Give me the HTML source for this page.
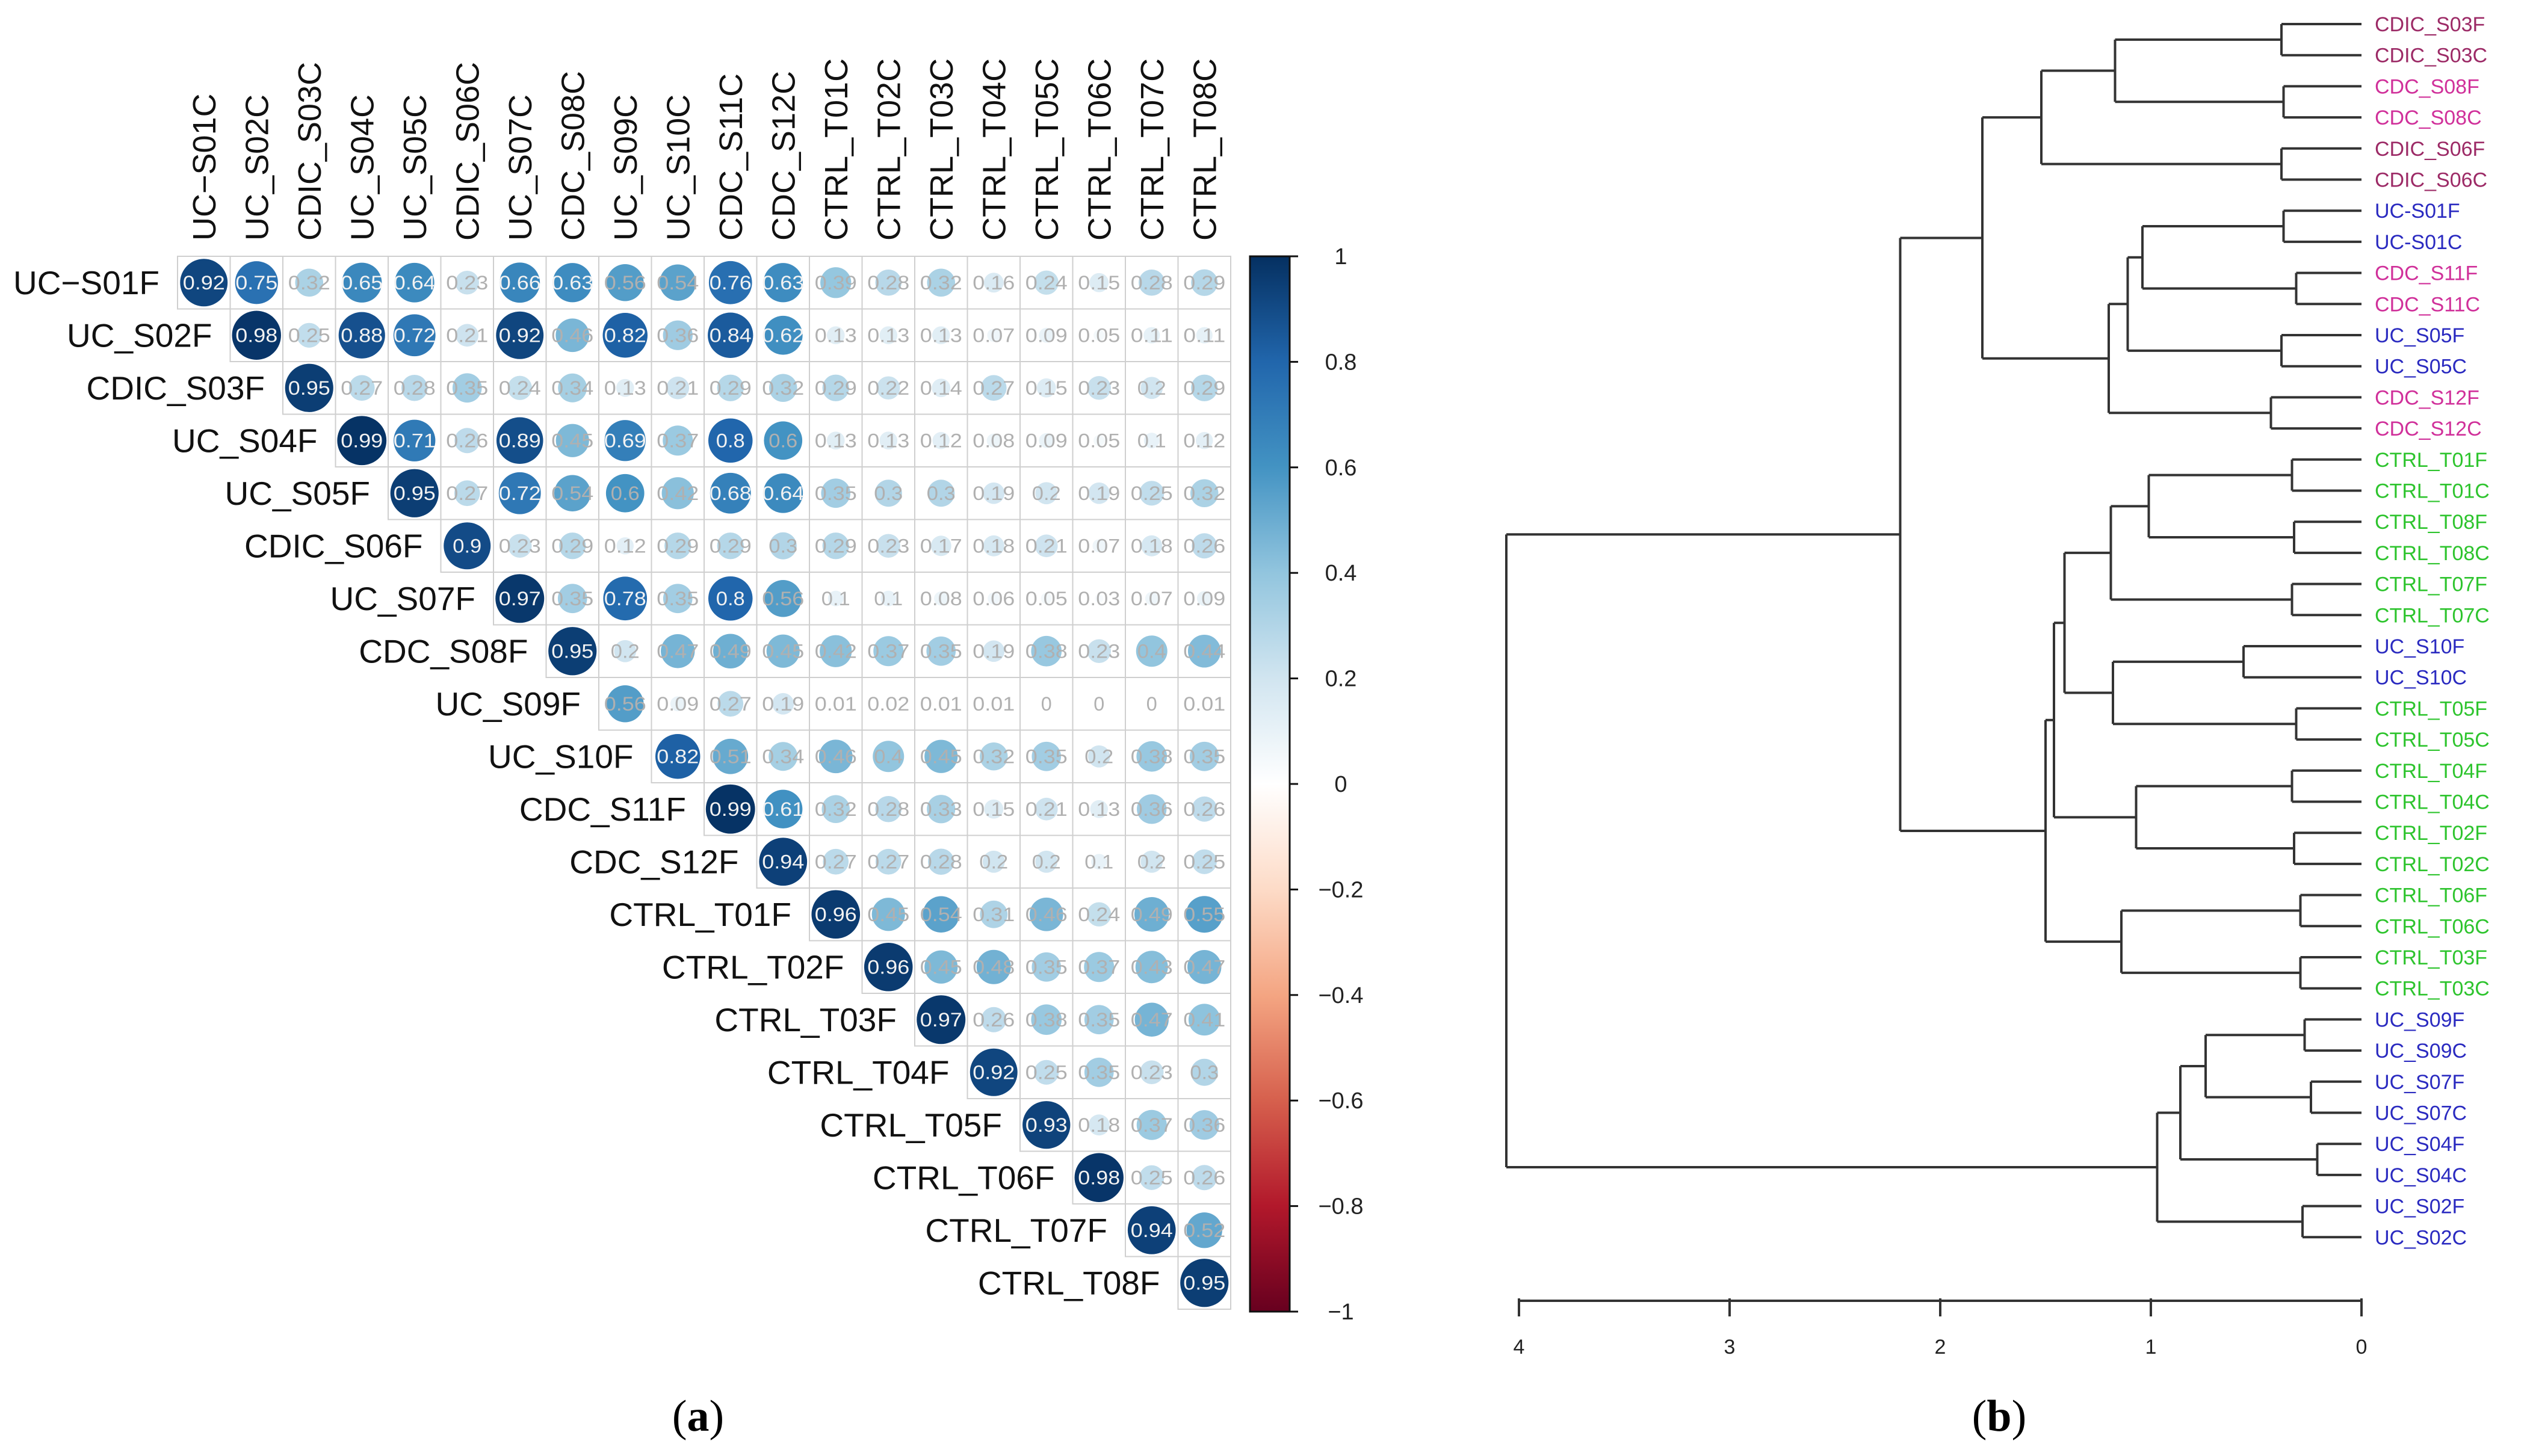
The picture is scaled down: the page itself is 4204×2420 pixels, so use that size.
<!DOCTYPE html>
<html><head><meta charset="utf-8"><style>
html,body{margin:0;padding:0;background:#fff;}
svg{display:block;}
</style></head><body>
<svg id="fig" xmlns="http://www.w3.org/2000/svg" width="4204" height="2420" viewBox="0 0 4204 2420">
<rect x="0" y="0" width="4204" height="2420" fill="#fff"/>
<g id="corr"></g>
<g id="cbar"></g>
<g id="dend"></g>
<text x="1160" y="2378" text-anchor="middle" font-family="Liberation Serif, serif" font-size="74">(<tspan font-weight="bold">a</tspan>)</text>
<text x="3322" y="2378" text-anchor="middle" font-family="Liberation Serif, serif" font-size="74">(<tspan font-weight="bold">b</tspan>)</text>
</svg>
<script>
const colLabels = ["UC\u2212S01C","UC_S02C","CDIC_S03C","UC_S04C","UC_S05C","CDIC_S06C","UC_S07C","CDC_S08C","UC_S09C","UC_S10C","CDC_S11C","CDC_S12C","CTRL_T01C","CTRL_T02C","CTRL_T03C","CTRL_T04C","CTRL_T05C","CTRL_T06C","CTRL_T07C","CTRL_T08C"];
const rowLabels = ["UC\u2212S01F","UC_S02F","CDIC_S03F","UC_S04F","UC_S05F","CDIC_S06F","UC_S07F","CDC_S08F","UC_S09F","UC_S10F","CDC_S11F","CDC_S12F","CTRL_T01F","CTRL_T02F","CTRL_T03F","CTRL_T04F","CTRL_T05F","CTRL_T06F","CTRL_T07F","CTRL_T08F"];
// each row starts at the diagonal column
const corrRows = [
[0.92,0.75,0.32,0.65,0.64,0.23,0.66,0.63,0.56,0.54,0.76,0.63,0.39,0.28,0.32,0.16,0.24,0.15,0.28,0.29],
[0.98,0.25,0.88,0.72,0.21,0.92,0.46,0.82,0.36,0.84,0.62,0.13,0.13,0.13,0.07,0.09,0.05,0.11,0.11],
[0.95,0.27,0.28,0.35,0.24,0.34,0.13,0.21,0.29,0.32,0.29,0.22,0.14,0.27,0.15,0.23,0.2,0.29],
[0.99,0.71,0.26,0.89,0.45,0.69,0.37,0.8,0.6,0.13,0.13,0.12,0.08,0.09,0.05,0.1,0.12],
[0.95,0.27,0.72,0.54,0.6,0.42,0.68,0.64,0.35,0.3,0.3,0.19,0.2,0.19,0.25,0.32],
[0.9,0.23,0.29,0.12,0.29,0.29,0.3,0.29,0.23,0.17,0.18,0.21,0.07,0.18,0.26],
[0.97,0.35,0.78,0.35,0.8,0.56,0.1,0.1,0.08,0.06,0.05,0.03,0.07,0.09],
[0.95,0.2,0.47,0.49,0.45,0.42,0.37,0.35,0.19,0.38,0.23,0.40,0.44],
[0.56,0.09,0.27,0.19,0.01,0.02,0.01,0.01,0,0,0,0.01],
[0.82,0.51,0.34,0.46,0.4,0.45,0.32,0.35,0.2,0.38,0.35],
[0.99,0.61,0.32,0.28,0.33,0.15,0.21,0.13,0.36,0.26],
[0.94,0.27,0.27,0.28,0.2,0.2,0.1,0.2,0.25],
[0.96,0.45,0.54,0.31,0.46,0.24,0.49,0.55],
[0.96,0.45,0.48,0.35,0.37,0.43,0.47],
[0.97,0.26,0.38,0.35,0.47,0.41],
[0.92,0.25,0.35,0.23,0.3],
[0.93,0.18,0.37,0.36],
[0.98,0.25,0.26],
[0.94,0.52],
[0.95]
];
const cbarTicks = [1,0.8,0.6,0.4,0.2,0,-0.2,-0.4,-0.6,-0.8,-1];
const cbarTickLabels = ["1","0.8","0.6","0.4","0.2","0","\u22120.2","\u22120.4","\u22120.6","\u22120.8","\u22121"];

const leafLabels = ["CDIC_S03F","CDIC_S03C","CDC_S08F","CDC_S08C","CDIC_S06F","CDIC_S06C","UC-S01F","UC-S01C","CDC_S11F","CDC_S11C","UC_S05F","UC_S05C","CDC_S12F","CDC_S12C","CTRL_T01F","CTRL_T01C","CTRL_T08F","CTRL_T08C","CTRL_T07F","CTRL_T07C","UC_S10F","UC_S10C","CTRL_T05F","CTRL_T05C","CTRL_T04F","CTRL_T04C","CTRL_T02F","CTRL_T02C","CTRL_T06F","CTRL_T06C","CTRL_T03F","CTRL_T03C","UC_S09F","UC_S09C","UC_S07F","UC_S07C","UC_S04F","UC_S04C","UC_S02F","UC_S02C"];
const mergeA = [-1,-3,1,-5,3,-7,-9,6,-11,8,-13,10,5,-15,-17,14,-19,16,-21,-23,19,18,-25,-27,23,22,-29,-31,27,26,13,-33,-35,32,-37,34,-39,36,31];
const mergeB = [-2,-4,2,-6,4,-8,-10,7,-12,9,-14,11,12,-16,-18,15,-20,17,-22,-24,20,21,-26,-28,24,25,-30,-32,28,29,30,-34,-36,33,-38,35,-40,37,38];
const mergeH = [0.38,0.37,1.17,0.38,1.52,0.37,0.31,1.04,0.38,1.11,0.43,1.20,1.80,0.33,0.32,1.01,0.33,1.19,0.56,0.31,1.18,1.41,0.33,0.32,1.07,1.46,0.29,0.29,1.14,1.50,2.19,0.27,0.24,0.74,0.21,0.86,0.28,0.97,4.06];
const axisTicks = [4,3,2,1,0];

const NS = "http://www.w3.org/2000/svg";
function mk(tag, attrs, parent){const e=document.createElementNS(NS,tag);for(const k in attrs)e.setAttribute(k,attrs[k]);parent.appendChild(e);return e;}

// ---- correlation plot ----
const G0 = document.getElementById('corr');
const gx0 = 295, gy0 = 426, cell = 87.5;
const colX = j => gx0 + j*cell;
const rowY = i => gy0 + i*cell;
const stops = [[-1,[103,0,31]],[-0.8,[178,24,43]],[-0.6,[214,96,77]],[-0.4,[244,165,130]],[-0.2,[253,219,199]],[0,[255,255,255]],[0.2,[209,229,240]],[0.4,[146,197,222]],[0.6,[67,147,195]],[0.8,[33,102,172]],[1,[5,48,97]]];
function colorOf(v){for(let k=0;k<stops.length-1;k++){const a=stops[k],b=stops[k+1];if(v>=a[0]&&v<=b[0]){const t=(v-a[0])/(b[0]-a[0]);const c=a[1].map((x,i)=>Math.round(x+(b[1][i]-x)*t));return `rgb(${c[0]},${c[1]},${c[2]})`;}}return '#fff';}

colLabels.forEach((lab,j)=>{
  const cx = colX(j)+cell/2+19, y = gy0-26;
  const t = mk('text',{x:cx,y:y,transform:`rotate(-90 ${cx} ${y})`,'font-family':'Liberation Sans, sans-serif','font-size':54,fill:'#111'},G0);
  
  
  t.textContent = lab;
});
rowLabels.forEach((lab,i)=>{
  const t = mk('text',{x:colX(i)-30,y:rowY(i)+cell/2+19,'text-anchor':'end','font-family':'Liberation Sans, sans-serif','font-size':55,fill:'#111'},G0);
  
  
  t.textContent = lab;
});
corrRows.forEach((vals,i)=>{
  vals.forEach((v,k)=>{
    const j=i+k;
    const r = mk('rect',{x:colX(j),y:rowY(i),width:cell,height:cell,fill:'#fff',stroke:'#cfcfcf','stroke-width':2},G0);
    
    
  });
});
corrRows.forEach((vals,i)=>{
  vals.forEach((v,k)=>{
    const j=i+k;
    const cx=colX(j)+cell/2, cy=rowY(i)+cell/2;
    const c = mk('circle',{cx:cx,cy:cy,r:0.47*cell*Math.sqrt(Math.abs(v)),fill:colorOf(v)},G0);
    
    
    const t = mk('text',{x:cx,y:cy+11,'text-anchor':'middle','font-family':'Liberation Sans, sans-serif','font-size':32,fill:Math.abs(v)>0.6?'#f2f2f2':'#b0b0b0',textLength:String(v).length>3?70:(String(v).length>1?48:18),lengthAdjust:'spacingAndGlyphs'},G0);
    
    
    t.textContent = String(v);
  });
});

// ---- color bar ----
const GC = document.getElementById('cbar');
const bx=2077,bw=66,byTop=426,byBot=2180;
const cy = v => byTop + (1-v)/2*(byBot-byTop);
const defs = mk('defs',{},GC);
const grad = mk('linearGradient',{id:'cg',x1:0,y1:0,x2:0,y2:1},defs);
stops.slice().reverse().forEach(s=>{mk('stop',{offset:((1-s[0])/2*100)+'%','stop-color':`rgb(${s[1].join(',')})`},grad);});
const bar = mk('rect',{x:bx,y:byTop,width:bw,height:byBot-byTop,fill:'url(#cg)',stroke:'#111','stroke-width':3},GC);


cbarTicks.forEach((v,k)=>{
  const l = mk('line',{x1:bx+bw,x2:bx+bw+14,y1:cy(v),y2:cy(v),stroke:'#111','stroke-width':3},GC);
  
  
  const t = mk('text',{x:2228,y:cy(v)+13,'text-anchor':'middle','font-family':'Liberation Sans, sans-serif','font-size':38,fill:'#222'},GC);
  
  
  t.textContent = cbarTickLabels[k];
});

// ---- dendrogram ----
const GD = document.getElementById('dend');
const x0 = 3924, unit = 350;
const hx = h => x0 - h*unit;
const leafY = i => 40 + i*51.7;
function leafColor(l){if(l.startsWith('CTRL'))return '#2ec42e';if(l.startsWith('CDIC'))return '#9c2a66';if(l.startsWith('CDC'))return '#d0309a';return '#2a2ac0';}
const pos = {};
function nodeInfo(id){ if(id<0){return {y:leafY(-id-1),h:0};} return pos[id]; }
function seg(x1,y1,x2,y2,name){const l=mk('line',{x1:x1,y1:y1,x2:x2,y2:y2,stroke:'#333','stroke-width':4},GD);}
for(let m=0;m<mergeH.length;m++){
  const a=nodeInfo(mergeA[m]), b=nodeInfo(mergeB[m]), h=mergeH[m];
  seg(hx(a.h),a.y,hx(h),a.y,'branch');
  seg(hx(b.h),b.y,hx(h),b.y,'branch');
  seg(hx(h),a.y,hx(h),b.y,'branch-join');
  pos[m+1]={y:(a.y+b.y)/2,h:h};
}
leafLabels.forEach((lab,i)=>{
  const t = mk('text',{x:x0+22,y:leafY(i)+12,'font-family':'Liberation Sans, sans-serif','font-size':34,fill:leafColor(lab)},GD);
  
  
  t.textContent = lab;
});
const ay = 2162;
seg(hx(4),ay,hx(0),ay,'x-axis-line');
axisTicks.forEach(v=>{
  seg(hx(v),ay-4,hx(v),ay+26,'x-axis-tick');
  const t = mk('text',{x:hx(v),y:2250,'text-anchor':'middle','font-family':'Liberation Sans, sans-serif','font-size':34,fill:'#222'},GD);
  
  
  t.textContent = String(v);
});
</script>
</body></html>
